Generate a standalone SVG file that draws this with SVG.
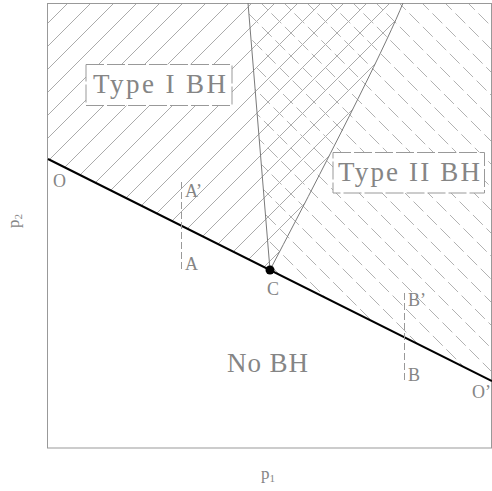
<svg xmlns="http://www.w3.org/2000/svg" width="492" height="491" viewBox="0 0 492 491">
  <style>
    .lbl { font-family: "Liberation Serif", "DejaVu Serif", serif; fill: #858585; }
    .big { font-size: 27px; }
    .sm { font-size: 18px; }
    .box { fill: #ffffff; stroke: #999999; stroke-width: 1; stroke-dasharray: 18 3; }
    .bound { fill: none; stroke: #7a7a7a; stroke-width: 1; }
    .guide { fill: none; stroke: #999999; stroke-width: 1; stroke-dasharray: 7 3; }
    .hI { fill: none; stroke: #ababab; stroke-width: 1; }
    .hII { fill: none; stroke: #b2b2b2; stroke-width: 1; stroke-dasharray: 14 5; }
  </style>
  <defs>
    <clipPath id="clipI">
      <path d="M48,3 L403,3 Q380,60 270,270 L48,159 Z"/>
    </clipPath>
    <clipPath id="clipII">
      <path d="M248,3 L492,3 L492,381 L270,270 Z"/>
    </clipPath>
  </defs>

  <rect x="0" y="0" width="492" height="491" fill="#ffffff"/>

  <g id="regions">
    <g id="typeI-region" clip-path="url(#clipI)">
      <path class="hI" d="M71,0l-300,300M94,0l-300,300M117,0l-300,300M140,0l-300,300M163,0l-300,300M186,0l-300,300M209,0l-300,300M232,0l-300,300M255,0l-300,300M278,0l-300,300M301,0l-300,300M324,0l-300,300M347,0l-300,300M370,0l-300,300M393,0l-300,300M416,0l-300,300M439,0l-300,300M462,0l-300,300M485,0l-300,300M508,0l-300,300M531,0l-300,300M554,0l-300,300"/>
    </g>
    <g id="typeII-region" clip-path="url(#clipII)">
      <path class="hII" d="M5,0l400,400M28,0l400,400M51,0l400,400M74,0l400,400M97,0l400,400M120,0l400,400M143,0l400,400M166,0l400,400M189,0l400,400M212,0l400,400M235,0l400,400M258,0l400,400M281,0l400,400M304,0l400,400M327,0l400,400M350,0l400,400M373,0l400,400M396,0l400,400M419,0l400,400M442,0l400,400M465,0l400,400M488,0l400,400"/>
    </g>
  </g>

  <g id="frame">
    <rect x="47.5" y="3.5" width="444" height="444.5" fill="none" stroke="#999999" stroke-width="1"/>
  </g>

  <g id="connectors">
    <path id="left-boundary" class="bound" d="M248,3 L270,270"/>
    <path id="right-boundary" class="bound" d="M270,270 Q380,60 403,3"/>
    <line id="critical-line" x1="48" y1="159" x2="492" y2="381" stroke="#000000" stroke-width="2"/>
    <line id="AA" class="guide" x1="181.5" y1="182" x2="181.5" y2="271"/>
    <line id="BB" class="guide" x1="404.5" y1="293" x2="404.5" y2="382"/>
  </g>

  <g id="typeI-label">
    <rect class="box" x="86" y="64.5" width="146" height="41"/>
    <text class="lbl big" x="93" y="93" textLength="133" lengthAdjust="spacing">Type I BH</text>
  </g>
  <g id="typeII-label">
    <rect class="box" x="333" y="152.5" width="151.5" height="40.5"/>
    <text class="lbl big" x="338" y="181" textLength="142" lengthAdjust="spacing">Type II BH</text>
  </g>
  <g id="noBH-label">
    <text class="lbl big" x="227" y="372" textLength="81" lengthAdjust="spacing">No BH</text>
  </g>

  <g id="point-C">
    <circle cx="270" cy="270" r="4.5" fill="#000000"/>
    <text class="lbl sm" x="267" y="295">C</text>
  </g>
  <g id="point-O"><text class="lbl sm" x="53" y="187">O</text></g>
  <g id="point-Oprime"><text class="lbl sm" x="472" y="398">O’</text></g>
  <g id="point-Aprime"><text class="lbl sm" x="185" y="197">A’</text></g>
  <g id="point-A"><text class="lbl sm" x="185" y="270">A</text></g>
  <g id="point-Bprime"><text class="lbl sm" x="408" y="306">B’</text></g>
  <g id="point-B"><text class="lbl sm" x="408" y="381">B</text></g>

  <g id="axis-p1">
    <text class="lbl" font-size="17" x="261" y="479">p<tspan font-size="11" dy="3">1</tspan></text>
  </g>
  <g id="axis-p2">
    <text class="lbl" font-size="17" transform="translate(19,228) rotate(-90)">p<tspan font-size="11" dy="3">2</tspan></text>
  </g>
</svg>
